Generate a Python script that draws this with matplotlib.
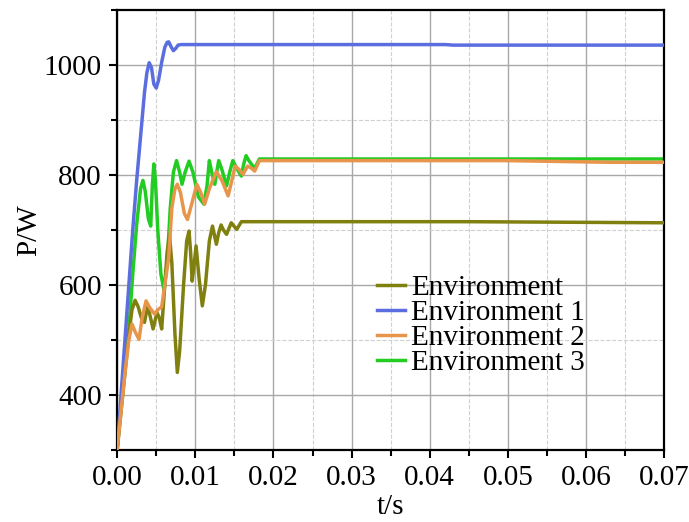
import matplotlib
matplotlib.use("Agg")
import matplotlib.pyplot as plt
from matplotlib.ticker import MultipleLocator, FormatStrFormatter

# values
t_env = [0, 0.0005, 0.001, 0.0015, 0.0019, 0.0023, 0.0027, 0.0031, 0.0035, 0.0039,
         0.0042, 0.0046, 0.0051, 0.0054, 0.0057, 0.006, 0.0064, 0.0067, 0.007, 0.0074,
         0.0077, 0.008, 0.0085, 0.0089, 0.0092, 0.0094, 0.0096, 0.0098, 0.0101, 0.0105,
         0.0109, 0.0113, 0.0118, 0.0122, 0.0127, 0.013, 0.0133, 0.0136, 0.014, 0.0146,
         0.0153, 0.0159, 0.045, 0.07]
p_env = [300, 370, 440, 510, 555, 572, 560, 540, 532, 562,
         545, 520, 550, 540, 520, 580, 660, 690, 640, 510,
         441, 480, 600, 680, 698, 660, 607, 630, 671, 610,
         562, 600, 680, 707, 674, 695, 709, 700, 692, 713,
         701, 715, 715, 713]

t_env1 = [0, 0.0005, 0.001, 0.0015, 0.002, 0.0025, 0.003, 0.0035, 0.0038, 0.0041,
          0.0044, 0.0047, 0.005, 0.0053, 0.0057, 0.0061, 0.0064, 0.0066, 0.0069, 0.0072,
          0.0075, 0.0078, 0.0082, 0.042, 0.043, 0.07]
p_env1 = [300, 400, 500, 600, 700, 790, 870, 950, 985, 1004,
          995, 965, 958, 972, 1005, 1032, 1041, 1042, 1033, 1026,
          1030, 1036, 1037, 1037, 1036, 1036]

t_env2 = [0, 0.0005, 0.001, 0.0015, 0.0019, 0.0023, 0.0028, 0.0032, 0.0037, 0.0042,
          0.0048, 0.0052, 0.0057, 0.0062, 0.0066, 0.007, 0.0074, 0.0077, 0.0081, 0.0086,
          0.009, 0.0095, 0.0102, 0.0107, 0.0112, 0.0118, 0.0127, 0.0134, 0.0142, 0.0146,
          0.0151, 0.0156, 0.0161, 0.0167, 0.0172, 0.0176, 0.0182, 0.05, 0.063, 0.07]
p_env2 = [300, 370, 440, 500, 529, 515, 501, 540, 571, 558,
          547, 555, 560, 610, 650, 740, 775, 783, 768, 730,
          719, 745, 783, 768, 747, 775, 806, 790, 762, 785,
          816, 810, 801, 816, 812, 807, 826, 826, 823, 823]

t_env3 = [0, 0.0005, 0.001, 0.0015, 0.002, 0.0025, 0.003, 0.0033, 0.0036, 0.004,
          0.0043, 0.0045, 0.0047, 0.0049, 0.0052, 0.0056, 0.006, 0.0064, 0.0068, 0.0072,
          0.0076, 0.008, 0.0083, 0.0087, 0.0092, 0.0097, 0.0104, 0.0111, 0.0115, 0.0118,
          0.0121, 0.0125, 0.0128, 0.013, 0.0134, 0.014, 0.0144, 0.0148, 0.0153, 0.0159,
          0.0162, 0.0165, 0.0169, 0.0176, 0.0182, 0.07]
p_env3 = [300, 380, 450, 520, 620, 710, 775, 790, 770, 720,
          707, 780, 820, 790, 700, 620, 590, 640, 740, 805,
          826, 805, 783, 805, 825, 805, 760, 747, 780, 826,
          805, 783, 810, 826, 810, 780, 805, 826, 812, 798,
          820, 835, 825, 812, 829, 829]

labels = ["Environment", "Environment 1", "Environment 2", "Environment 3"]
colors = ["#808010", "#5b6ee0", "#e8954c", "#22cc22"]

plt.rcParams['font.family'] = ['Liberation Serif', 'DejaVu Serif']
plt.rcParams['font.size'] = 21

fig = plt.figure(figsize=(6.89, 5.22), dpi=100)
ax = fig.add_axes([0.170, 0.138, 0.794, 0.843])

series = [(t_env, p_env), (t_env1, p_env1), (t_env2, p_env2), (t_env3, p_env3)]
zorders = [3, 3, 3, 2]
for (t, p), lab, c, z in zip(series, labels, colors, zorders):
    ax.plot(t, p, color=c, lw=2.5, label=lab, zorder=z)

ax.set_xlim(0, 0.07)
ax.set_ylim(300, 1100)
ax.xaxis.set_major_locator(MultipleLocator(0.01))
ax.xaxis.set_minor_locator(MultipleLocator(0.005))
ax.yaxis.set_major_locator(MultipleLocator(200))
ax.yaxis.set_minor_locator(MultipleLocator(100))
ax.xaxis.set_major_formatter(FormatStrFormatter('%.2f'))
ax.set_yticks([400, 600, 800, 1000])

ax.grid(which='major', color='#a8a8a8', lw=1.0, ls='-')
ax.grid(which='minor', color='#d0d0d0', lw=0.8, ls='--')
ax.set_axisbelow(True)

ax.tick_params(which='major', direction='out', length=6, width=1.5, top=False, right=False, pad=5)
ax.tick_params(which='minor', direction='out', length=4, width=1.5, top=False, right=False)
for s in ax.spines.values():
    s.set_linewidth(1.6)

ax.set_xlabel('t/s', labelpad=2)
ax.set_ylabel('P/W', labelpad=1)

ax.legend(loc='upper left', bbox_to_anchor=(0.438, 0.445), frameon=False, fontsize=21,
          handlelength=0.95, handletextpad=0.2, labelspacing=-0.05, borderpad=0.2)

fig.savefig('out.png', dpi=100)
